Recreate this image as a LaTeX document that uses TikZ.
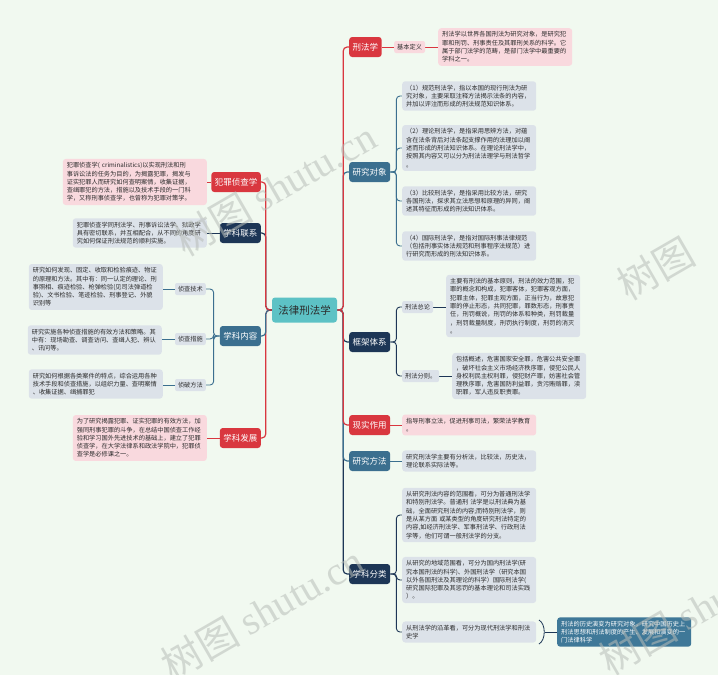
\documentclass[tikz,border=0pt]{standalone}
\usepackage{fontspec}
\setmainfont{Noto Sans CJK SC}
\newfontfamily\wmserif{Liberation Serif}
\usetikzlibrary{backgrounds}
\definecolor{redc}{HTML}{D9373F}
\definecolor{steel}{HTML}{3B6F8F}
\definecolor{navy}{HTML}{1D3656}
\definecolor{rootc}{HTML}{5DC2C5}
\definecolor{greyf}{HTML}{DCE2E9}
\definecolor{pinkf}{HTML}{F9D9DE}
\definecolor{bluef}{HTML}{3F7898}
\definecolor{bgc}{HTML}{F1F9F0}
\definecolor{txt}{HTML}{2B2B2B}
\definecolor{wm}{HTML}{B8BDB8}
\tikzset{
  textbox/.style={rounded corners=3pt, inner xsep=4pt, inner ysep=3.5pt,
    font=\fontsize{6.2}{8.3}\selectfont, align=left, text width=#1, text=txt},
  greybox/.style={textbox=#1, fill=greyf},
  pinkbox/.style={textbox=#1, fill=pinkf},
  bluebox/.style={textbox=#1, fill=bluef, text=white},
  topic/.style={rounded corners=3pt, inner xsep=3.5pt, inner ysep=2pt, minimum height=20pt,
    font=\fontsize{8.5}{10}\selectfont, text=white},
  redtopic/.style={topic, fill=redc},
  steeltopic/.style={topic, fill=steel},
  navytopic/.style={topic, fill=navy},
  tag/.style={rounded corners=2pt, inner xsep=3pt, inner ysep=1pt, minimum height=12pt,
    font=\fontsize{6.2}{7}\selectfont, text=txt},
  greytag/.style={tag, fill=greyf},
  pinktag/.style={tag, fill=pinkf},
  conn/.style={line width=1.2pt, rounded corners=4pt},
  subconn/.style={line width=0.9pt, rounded corners=3.5pt},
  wmark/.style={text=wm, opacity=0.55, rotate=30, font=\fontsize{40}{40}\selectfont}
}
\begin{document}
\begin{tikzpicture}[x=1pt,y=-1pt]
\useasboundingbox (0,0) rectangle (718,675);
\clip (0,0) rectangle (718,675);

% root
\node[fill=rootc, rounded corners=3pt, minimum width=65pt, minimum height=25pt,
      font=\fontsize{10.5}{12}\selectfont, text=txt] (root) at (304.5,310) {法律刑法学};

% right level 1
\node[redtopic, anchor=west] (xfx) at (349,47) {刑法学};
\node[steeltopic, anchor=west] (yjdx) at (349,172) {研究对象};
\node[navytopic, anchor=west] (kjtx) at (349,342) {框架体系};
\node[redtopic, anchor=west] (sszy) at (349,425) {现实作用};
\node[steeltopic, anchor=west] (yjff) at (349,461) {研究方法};
\node[navytopic, anchor=west] (xkfl) at (349,574) {学科分类};

% left level 1
\node[redtopic, anchor=east] (fzzcx) at (261,182) {犯罪侦查学};
\node[navytopic, anchor=east] (xklx) at (261,233) {学科联系};
\node[steeltopic, anchor=east] (xknr) at (261,336) {学科内容};
\node[redtopic, anchor=east] (xkfz) at (261,438) {学科发展};

% 刑法学
\node[pinktag, anchor=west] (jbdy) at (394,47) {基本定义};
\node[pinkbox=126pt, anchor=west] (dyt) at (438,47) {刑法学以世界各国刑法为研究对象，是研究犯\\罪和刑罚、刑事责任及其罪刑关系的科学。它\\属于部门法学的范畴，是部门法学中最重要的\\学科之一。};

% 研究对象
\node[greybox=126pt, anchor=west] (d1) at (402,96) {（1）规范刑法学，指以本国的现行刑法为研\\究对象，主要采取注释方法揭示法条的内容，\\并加以评注而形成的刑法规范知识体系。};
\node[greybox=126pt, anchor=west] (d2) at (402,148) {（2）理论刑法学，是指采用思辨方法，对蕴\\含在法条背后对法条起支撑作用的法理加以阐\\述而形成的刑法知识体系。在理论刑法学中，\\按照其内容又可以分为刑法法理学与刑法哲学\\。};
\node[greybox=126pt, anchor=west] (d3) at (402,201) {（3）比较刑法学，是指采用比较方法，研究\\各国刑法，探求其立法思想和原理的异同，阐\\述其特征而形成的刑法知识体系。};
\node[greybox=126pt, anchor=west] (d4) at (402,246) {（4）国际刑法学，是指对国际刑事法律规范\\（包括刑事实体法规范和刑事程序法规范）进\\行研究而形成的刑法知识体系。};

% 框架体系
\node[greytag, anchor=west] (zl) at (402,307) {刑法总论};
\node[greybox=126pt, anchor=west] (zlt) at (446,306) {主要有刑法的基本原则，刑法的效力范围，犯\\罪的概念和构成，犯罪客体，犯罪客观方面，\\犯罪主体，犯罪主观方面，正当行为，故意犯\\罪的停止形态，共同犯罪，罪数形态，刑事责\\任，刑罚概说，刑罚的体系和种类，刑罚裁量\\，刑罚裁量制度，刑罚执行制度，刑罚的消灭\\。};
\node[greytag, anchor=west] (fz) at (402,376) {刑法分则。};
\node[greybox=126pt, anchor=west] (fzt) at (452,376) {包括概述，危害国家安全罪，危害公共安全罪\\，破坏社会主义市场经济秩序罪，侵犯公民人\\身权利民主权利罪，侵犯财产罪，妨害社会管\\理秩序罪，危害国防利益罪，贪污贿赂罪，渎\\职罪，军人违反职责罪。};

% 现实作用 / 研究方法
\node[pinkbox=126pt, anchor=west] (ss) at (402,425) {指导刑事立法，促进刑事司法，繁荣法学教育\\。};
\node[greybox=126pt, anchor=west] (ff) at (402,461) {研究刑法学主要有分析法，比较法，历史法，\\理论联系实际法等。};

% 学科分类
\node[greybox=126pt, anchor=west] (c1) at (402,515) {从研究刑法内容的范围看，可分为普通刑法学\\和特别刑法学。普通刑 法学是以刑法典为基\\础，全面研究刑法的内容;而特别刑法学，则\\是从某方面 或某类型的角度研究刑法特定的\\内容,如经济刑法学、军事刑法学、行政刑法\\学等，他们可谓一般刑法学的分支。};
\node[greybox=126pt, anchor=west] (c2) at (402,580) {从研究的地域范围看，可分为国内刑法学(研\\究本国刑法的科学)、外国刑法学（研究本国\\以外各国刑法及其理论的科学）国际刑法学(\\研究国际犯罪及其惩罚的基本理论和司法实践\\）。};
\node[greybox=126pt, anchor=west] (c3) at (402,632) {从刑法学的沿革看，可分为现代刑法学和刑法\\史学};
\node[bluebox=126pt, anchor=west] (c3b) at (557,632) {刑法的历史演变为研究对象，研究中国历史上\\刑法思想和刑法制度的产生、发展和演变的一\\门法律科学};

% left boxes
\node[pinkbox=136pt, anchor=east] (fzt1) at (207,182) {犯罪侦查学( criminalistics)以实现刑法和刑\\事诉讼法的任务为目的，为揭露犯罪，揭发与\\证实犯罪人而研究如何查明案情，收集证据，\\查缉罪犯的方法，措施以及技术手段的一门科\\学，又称刑事侦查学，也曾称为犯罪对策学。};
\node[greybox=126pt, anchor=east] (lxt) at (207,233) {犯罪侦查学同刑法学、刑事诉讼法学、狱政学\\具有密切联系，并互相配合，从不同的角度研\\究如何保证刑法规范的顺利实施。};
\node[greytag, anchor=east] (js) at (206,289) {侦查技术};
\node[greybox=126pt, anchor=east] (jst) at (163,287) {研究如何发现、固定、收取和检验痕迹、物证\\的原理和方法。其中有：同一认定的理论、刑\\事照相、痕迹检验、枪弹检验(见司法弹道检\\验)、文书检验、笔迹检验、刑事登记、外貌\\识别等};
\node[greytag, anchor=east] (cs) at (206,339) {侦查措施};
\node[greybox=126pt, anchor=east] (cst) at (162,340) {研究实施各种侦查措施的有效方法和策略。其\\中有：现场勘查、调查访问、查缉人犯、辨认\\、讯问等。};
\node[greytag, anchor=east] (pf) at (206,385) {侦破方法};
\node[greybox=126pt, anchor=east] (pft) at (163,384) {研究如何根据各类案件的特点，综合运用各种\\技术手段和侦查措施，以组织力量、查明案情\\、收集证据、缉捕罪犯};
\node[pinkbox=126pt, anchor=east] (fzt2) at (207,438) {为了研究揭露犯罪、证实犯罪的有效方法，加\\强同刑事犯罪的斗争，在总结中国侦查工作经\\验和学习国外先进技术的基础上，建立了犯罪\\侦查学，在大学法律系和政法学院中，犯罪侦\\查学是必修课之一。};

% bracket coordinates
\coordinate (bra) at (539,620);
\coordinate (brb) at (539,644);
\coordinate (brm) at (545,632);

\begin{pgfonlayer}{background}
\fill[bgc] (0,0) rectangle (718,675);
% root to right
\draw[conn, navy] (root.east) -- ++(6,0) |- (xkfl.west);
\draw[conn, steel] (root.east) -- ++(6,0) |- (yjff.west);
\draw[conn, navy] (root.east) -- ++(6,0) |- (kjtx.west);
\draw[conn, redc] (root.east) -- ++(6,0) |- (sszy.west);
\draw[conn, steel] (root.east) -- ++(6,0) |- (yjdx.west);
\draw[conn, redc] (root.east) -- ++(6,0) |- (xfx.west);
% root to left
\draw[conn, redc] (root.west) -- ++(-6,0) |- (xkfz.east);
\draw[conn, steel] (root.west) -- ++(-6,0) |- (xknr.east);
\draw[conn, navy] (root.west) -- ++(-6,0) |- (xklx.east);
\draw[conn, redc] (root.west) -- ++(-6,0) |- (fzzcx.east);
% level 2 right
\draw[subconn, redc] (xfx.east) -- (jbdy.west);
\draw[subconn, redc] (jbdy.east) -- (dyt.west);
\foreach \t in {d1,d2,d3,d4}
  \draw[subconn, steel] (yjdx.east) -- ++(6,0) |- (\t.west);
\foreach \t in {zl,fz}
  \draw[subconn, navy] (kjtx.east) -- ++(6,0) |- (\t.west);
\draw[subconn, navy] (zl.east) -- (zl.east -| zlt.west);
\draw[subconn, navy] (fz.east) -- (fzt.west);
\draw[subconn, redc] (sszy.east) -- (ss.west);
\draw[subconn, steel] (yjff.east) -- (ff.west);
\foreach \t in {c1,c2,c3}
  \draw[subconn, navy] (xkfl.east) -- ++(6,0) |- (\t.west);
\draw[line width=0.8pt, navy] (bra) .. controls (546,624) and (546,640) .. (brb);
\draw[line width=0.8pt, navy] (brm) -- (c3b.west);
% level 2 left
\draw[subconn, redc] (fzzcx.west) -- (fzt1.east);
\draw[subconn, navy] (xklx.west) -- (lxt.east);
\foreach \t in {js,cs,pf}
  \draw[subconn, steel] (xknr.west) -- ++(-6,0) |- (\t.east);
\draw[subconn, steel] (js.west) -- (js.west -| jst.east);
\draw[subconn, steel] (cs.west) -- (cs.west -| cst.east);
\draw[subconn, steel] (pf.west) -- (pf.west -| pft.east);
\draw[subconn, redc] (xkfz.west) -- (fzt2.east);
\end{pgfonlayer}

% watermarks
\node[wmark] (wm1) at (275,188) {树图 {\wmserif shutu.cn}};
\node[wmark] (wm2) at (262,612) {树图 {\wmserif shutu.cn}};
\node[wmark] (wm3) at (656,268) {树图};
\node[wmark, anchor=west] (wm4) at (600,665) {树图 {\wmserif shutu.cn}};
\end{tikzpicture}
\end{document}
